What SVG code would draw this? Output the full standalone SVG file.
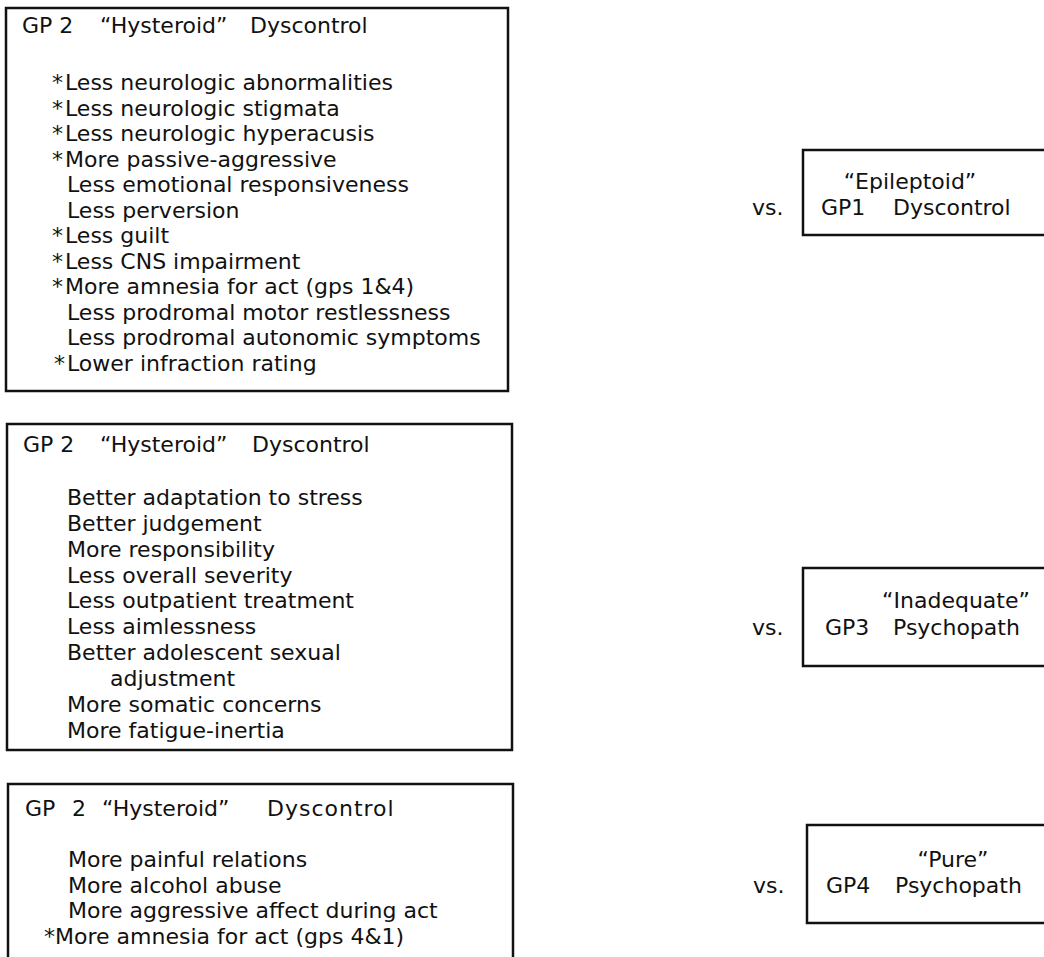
<svg xmlns="http://www.w3.org/2000/svg" width="1044" height="957" viewBox="0 0 1044 957">
<style>
.box{fill:none;stroke:#111;stroke-width:2.5}
text{font-family:"DejaVu Sans","Liberation Sans",sans-serif;font-size:22px;fill:#111}
</style>
<rect width="1044" height="957" fill="#fff"/>
<g id="gp2-vs-gp1">
<rect class="box" x="6" y="8" width="502" height="383"/>
<text y="33"><tspan x="22">GP 2</tspan><tspan x="100">“Hysteroid”</tspan><tspan x="250">Dyscontrol</tspan></text>
<text y="90"><tspan x="52">*</tspan><tspan x="65">Less neurologic abnormalities</tspan></text>
<text y="115.5"><tspan x="52">*</tspan><tspan x="65">Less neurologic stigmata</tspan></text>
<text y="141"><tspan x="52">*</tspan><tspan x="65">Less neurologic hyperacusis</tspan></text>
<text y="166.5"><tspan x="52">*</tspan><tspan x="65">More passive-aggressive</tspan></text>
<text x="67" y="192">Less emotional responsiveness</text>
<text x="67" y="217.5">Less perversion</text>
<text y="243"><tspan x="52">*</tspan><tspan x="65">Less guilt</tspan></text>
<text y="268.5"><tspan x="52">*</tspan><tspan x="65">Less CNS impairment</tspan></text>
<text y="294"><tspan x="52">*</tspan><tspan x="65">More amnesia for act (gps 1&amp;4)</tspan></text>
<text x="67" y="319.5">Less prodromal motor restlessness</text>
<text x="67" y="345">Less prodromal autonomic symptoms</text>
<text y="370.5"><tspan x="54">*</tspan><tspan x="67">Lower infraction rating</tspan></text>
</g>
<g id="gp2-vs-gp3">
<rect class="box" x="7" y="424" width="505" height="326"/>
<text y="452"><tspan x="23">GP 2</tspan><tspan x="100">“Hysteroid”</tspan><tspan x="252">Dyscontrol</tspan></text>
<text x="67" y="505">Better adaptation to stress</text>
<text x="67" y="531">Better judgement</text>
<text x="67" y="557">More responsibility</text>
<text x="67" y="583">Less overall severity</text>
<text x="67" y="608">Less outpatient treatment</text>
<text x="67" y="634">Less aimlessness</text>
<text x="67" y="660">Better adolescent sexual</text>
<text x="110" y="686">adjustment</text>
<text x="67" y="712">More somatic concerns</text>
<text x="67" y="738">More fatigue-inertia</text>
</g>
<g id="gp2-vs-gp4">
<path class="box" d="M8 957 V784 H513 V957"/>
<text y="816"><tspan x="25">GP</tspan><tspan x="72">2</tspan><tspan x="102">“Hysteroid”</tspan><tspan x="267" letter-spacing="1">Dyscontrol</tspan></text>
<text x="68" y="867">More painful relations</text>
<text x="68" y="893">More alcohol abuse</text>
<text x="68" y="918">More aggressive affect during act</text>
<text y="944"><tspan x="44">*</tspan><tspan x="55">More amnesia for act (gps 4&amp;1)</tspan></text>
</g>
<g id="gp1">
<path class="box" d="M1044 150 H803 V235 H1044"/>
<text x="910" y="189" text-anchor="middle">“Epileptoid”</text>
<text y="215"><tspan x="821">GP1</tspan><tspan x="893">Dyscontrol</tspan></text>
</g>
<g id="gp3">
<path class="box" d="M1044 568 H803 V666 H1044"/>
<text x="956" y="608" text-anchor="middle">“Inadequate”</text>
<text y="635"><tspan x="825">GP3</tspan><tspan x="893">Psychopath</tspan></text>
</g>
<g id="gp4">
<path class="box" d="M1044 825 H807 V923 H1044"/>
<text x="953" y="867" text-anchor="middle">“Pure”</text>
<text y="893"><tspan x="826">GP4</tspan><tspan x="895">Psychopath</tspan></text>
</g>
<g id="connectors">
<text x="752" y="215">vs.</text>
<text x="752" y="635">vs.</text>
<text x="753" y="893">vs.</text>
</g>
</svg>
